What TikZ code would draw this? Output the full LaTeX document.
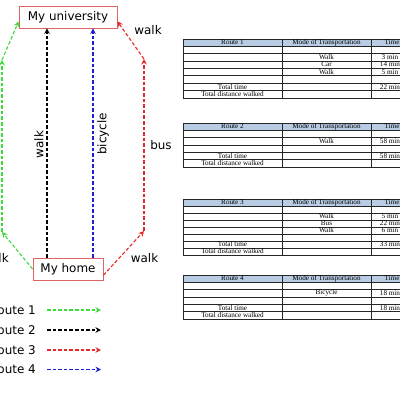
\documentclass[tikz,border=0pt]{standalone}
\usepackage{fontspec}
\setmainfont{DejaVu Sans}
\newfontfamily\tabfont{Liberation Serif}
\usetikzlibrary{arrows.meta}
\definecolor{rgreen}{RGB}{60,220,60}
\definecolor{rred}{RGB}{232,40,40}
\definecolor{rblue}{RGB}{30,30,210}
\definecolor{boxred}{RGB}{224,100,100}
\definecolor{hdrblue}{RGB}{184,204,228}
\tikzset{
  route/.style={line width=1.1bp, dash pattern=on 3.6bp off 2bp, -{Stealth[length=5.5bp,width=5.5bp]}},
  place/.style={draw=boxred, line width=0.8bp, font=\fontsize{12}{14}\selectfont, inner sep=0pt},
  lab/.style={font=\fontsize{12}{14}\selectfont, inner sep=0pt},
  cell/.style={font=\tabfont\fontsize{7.2}{7.4}\selectfont, inner sep=0pt},
  tabline/.style={draw=black!85, line width=0.6bp},
}
\newcommand\routetable[5]{%
  \path[fill=hdrblue] (183,#2) rectangle (410,#2+7);
  \draw[tabline] (183,#2) -- (410,#2);
  \draw[tabline] (183,#2+7) -- (410,#2+7);
  \foreach \i in {1,...,#3} {\draw[tabline] (183,{#2+7+\i*#4}) -- (410,{#2+7+\i*#4});}
  \draw[tabline] (183,#2) -- (183,{#2+7+#3*#4});
  \draw[tabline] (282,#2) -- (282,{#2+7+#3*#4});
  \draw[tabline] (371,#2) -- (371,{#2+7+#3*#4});
  \node[cell] (#1h1) at (232.5,#2+3.6) {#5};
  \node[cell] (#1h2) at (326.5,#2+3.6) {Mode of Transportation};
  \node[cell] (#1h3) at (392,#2+3.6) {Time};
}
\newcommand\tcell[6]{\node[cell] (#1) at (#2,{#3+7+(#5-0.5)*#4}) {#6};}
\begin{document}
\begin{tikzpicture}[x=1bp,y=-1bp]
\useasboundingbox (0,0) rectangle (400,400);
\clip (0,0) rectangle (400,400);

% places
\node[place, minimum width=98bp, minimum height=22bp] (univ) at (68,17) {My university};
\node[place, minimum width=70bp, minimum height=22bp] (home) at (68,269) {My home};

% route coordinates
\coordinate (g1) at (2,232);
\coordinate (g2) at (2,60);
\coordinate (r1) at (144,231);
\coordinate (r2) at (144,59);
\coordinate (bx) at (47,0);
\coordinate (ux) at (93,0);

% route 1 (green)
\draw[route, rgreen] (home.west) -- (g1);
\draw[route, rgreen] (g1) -- (g2);
\draw[route, rgreen] (g2) -- (univ.185);
% route 2 (black)
\draw[route, black] (home.north -| bx) -- (univ.south -| bx);
% route 4 (blue)
\draw[route, rblue] (home.north -| ux) -- (univ.south -| ux);
% route 3 (red)
\draw[route, rred] (home.350) -- (r1);
\draw[route, rred] (r1) -- (r2);
\draw[route, rred] (r2) -- (univ.355);

% labels
\node[lab, rotate=90] (lwalk) at (39,144.5) {walk};
\node[lab, rotate=90] (lbike) at (103,134) {bicycle};
\node[lab] (lbus) at (161,145) {bus};
\node[lab] (lw1) at (148,30) {walk};
\node[lab] (lw2) at (144.5,258) {walk};
\node[lab] (lw3) at (-5,258) {walk};

% legend
\node[lab, anchor=east] (leg1) at (36,310) {Route 1};
\node[lab, anchor=east] (leg2) at (36,330) {Route 2};
\node[lab, anchor=east] (leg3) at (36,350) {Route 3};
\node[lab, anchor=east] (leg4) at (36,369.5) {Route 4};
\coordinate (a1s) at (47,310); \coordinate (a1e) at (101,310);
\coordinate (a2s) at (47,330); \coordinate (a2e) at (101,330);
\coordinate (a3s) at (47,350); \coordinate (a3e) at (101,350);
\coordinate (a4s) at (47,369.5); \coordinate (a4e) at (101,369.5);
\draw[route, rgreen] (a1s) -- (a1e);
\draw[route, black] (a2s) -- (a2e);
\draw[route, rred] (a3s) -- (a3e);
\draw[route, rblue] (a4s) -- (a4e);

% tables
\routetable{ta}{39}{7}{7.4}{Route 1}
\tcell{ta21}{326.5}{39}{7.4}{2}{Walk}
\tcell{ta22}{390}{39}{7.4}{2}{3 min}
\tcell{ta31}{326.5}{39}{7.4}{3}{Car}
\tcell{ta32}{390}{39}{7.4}{3}{14 min}
\tcell{ta41}{326.5}{39}{7.4}{4}{Walk}
\tcell{ta42}{390}{39}{7.4}{4}{5 min}
\tcell{ta60}{232.5}{39}{7.4}{6}{Total time}
\tcell{ta62}{390}{39}{7.4}{6}{22 min}
\tcell{ta70}{232.5}{39}{7.4}{7}{Total distance walked}

\routetable{tb}{123}{5}{7.4}{Route 2}
\tcell{tb21}{326.5}{123}{7.4}{2}{Walk}
\tcell{tb22}{390}{123}{7.4}{2}{58 min}
\tcell{tb40}{232.5}{123}{7.4}{4}{Total time}
\tcell{tb42}{390}{123}{7.4}{4}{58 min}
\tcell{tb50}{232.5}{123}{7.4}{5}{Total distance walked}

\routetable{tc}{199}{7}{7.0}{Route 3}
\tcell{tc21}{326.5}{199}{7.0}{2}{Walk}
\tcell{tc22}{390}{199}{7.0}{2}{5 min}
\tcell{tc31}{326.5}{199}{7.0}{3}{Bus}
\tcell{tc32}{390}{199}{7.0}{3}{22 min}
\tcell{tc41}{326.5}{199}{7.0}{4}{Walk}
\tcell{tc42}{390}{199}{7.0}{4}{6 min}
\tcell{tc60}{232.5}{199}{7.0}{6}{Total time}
\tcell{tc62}{390}{199}{7.0}{6}{33 min}
\tcell{tc70}{232.5}{199}{7.0}{7}{Total distance walked}

\routetable{td}{275}{5}{7.4}{Route 4}
\tcell{td21}{326.5}{275}{7.4}{2}{Bicycle}
\tcell{td22}{390}{275}{7.4}{2}{18 min}
\tcell{td40}{232.5}{275}{7.4}{4}{Total time}
\tcell{td42}{390}{275}{7.4}{4}{18 min}
\tcell{td50}{232.5}{275}{7.4}{5}{Total distance walked}
\end{tikzpicture}
\end{document}
